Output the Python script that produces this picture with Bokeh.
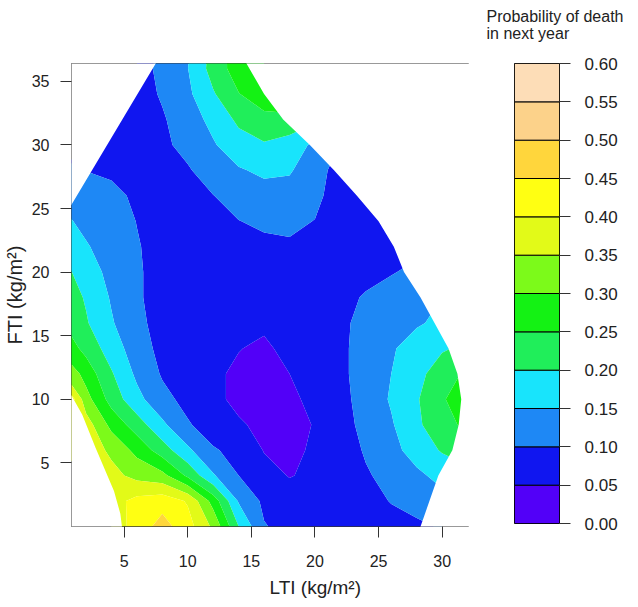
import numpy as np
from bokeh.plotting import figure
from bokeh.layouts import row
from bokeh.models import FixedTicker, PrintfTickFormatter, Title
from bokeh.embed import file_html
from bokeh.resources import INLINE

N = np.nan
# grid of LTI (x) and FTI (y) values, kg/m2
lti = [0, 2, 4, 6, 8, 10, 12, 14, 16, 18, 20, 22, 24, 26, 28, 30, 32]
fti = [0, 2, 4, 6, 8, 10, 12, 14, 16, 18, 20, 22, 24, 26, 28, 30, 32, 34, 36, 38]
# estimated probability of death in next year at each grid node (rows = FTI)
prob = [
    [N, N, .37, .42, .47, .42, .34, .20, .103, .085, .075, .07, .075, .085, .09, .105, N],
    [N, .38, .38, .415, .43, .395, .28, .145, .09, .07, .065, .07, .085, .102, .12, .135, N],
    [N, .37, .365, .335, .315, .24, .155, .10, .065, .048, .058, .075, .095, .115, .14, .165, .18],
    [.40, .38, .34, .285, .225, .16, .105, .085, .048, .042, .055, .075, .105, .135, .17, .205, .23],
    [.40, .375, .285, .225, .16, .105, .075, .055, .04, .038, .052, .08, .115, .145, .19, .235, .26],
    [.50, .32, .23, .165, .115, .085, .06, .04, .035, .042, .06, .085, .12, .155, .195, .245, .28],
    [.36, .28, .205, .14, .095, .07, .055, .045, .04, .05, .065, .09, .12, .15, .185, .225, .26],
    [.29, .235, .175, .125, .085, .07, .06, .051, .045, .058, .07, .09, .12, .145, .17, .195, .21],
    [.255, .205, .155, .11, .085, .07, .06, .055, .055, .06, .07, .09, .115, .13, .145, .16, .18],
    [.235, .195, .145, .105, .085, .075, .065, .06, .065, .07, .075, .085, .105, .12, .135, .15, N],
    [.22, .175, .135, .105, .085, .075, .07, .07, .075, .08, .08, .08, .085, .097, .11, .13, N],
    [.195, .155, .125, .103, .085, .075, .075, .08, .09, .095, .09, .08, .08, .085, .09, N, N],
    [.165, .135, .12, .099, .08, .075, .085, .099, .108, .108, .099, .08, .075, .075, .08, N, N],
    [.14, .125, .115, .09, .075, .08, .099, .12, .13, .13, .11, .08, .075, .075, N, N, N],
    [.11, .099, .09, .08, .08, .095, .125, .145, .16, .155, .12, .08, .075, N, N, N, N],
    [N, .08, .075, .08, .09, .115, .145, .18, .195, .175, .14, .098, N, N, N, N, N],
    [N, .07, .07, .075, .095, .125, .165, .21, .235, .24, .21, N, N, N, N, N, N],
    [N, N, .07, .08, .105, .14, .195, .248, .28, .28, N, N, N, N, N, N, N],
    [N, N, N, .075, .115, .149, .22, .275, .29, N, N, N, N, N, N, N, N],
    [N, N, N, .07, .11, .145, .215, .28, .30, N, N, N, N, N, N, N, N],
]
levels = [0.00, 0.05, 0.10, 0.15, 0.20, 0.25, 0.30, 0.35, 0.40, 0.45, 0.50, 0.55, 0.60]
colors = ["#5200F8", "#1016F0", "#1E88F5", "#18E4FC", "#20EE5A", "#14F214",
          "#7CFA1A", "#E2FA18", "#FFFF12", "#FFD63C", "#FCD28A", "#FDDDB7"]
# outline of the observed (LTI, FTI) domain
hull_lti = [4.85, 4.7, 4.2, 2.75, 1.7, 0.8, 0.8, 7.6, 14.5, 16.0, 17.5, 19.6, 21.5, 23.3,
            25.0, 26.2, 27.0, 28.3, 29.4, 30.5, 31.2, 31.5, 31.3, 30.8, 29.7, 29.0, 28.3, 28.2]
hull_fti = [-0.2, 1.0, 2.8, 6.2, 8.8, 10.4, 25.2, 36.6, 36.6, 34, 32, 30, 28, 26,
            24, 22, 20, 18, 16, 14, 12, 10, 8, 6, 4, 2, 0, -0.2]
x_ticks = [5, 10, 15, 20, 25, 30]
y_ticks = [5, 10, 15, 20, 25, 30, 35]
x_label = "LTI (kg/m²)"
y_label = "FTI (kg/m²)"
cb_title = ["Probability of death", "in next year"]

FONT = "Liberation Sans"
x_lo, x_hi = 0.86, 32.15
y_lo, y_hi = 0.0, 36.4
TOTAL_H = 603
TITLE_PROPS = Title.properties()

p = figure(frame_width=398, frame_height=463, x_range=(x_lo, x_hi), y_range=(y_lo, y_hi),
           output_backend="svg", toolbar_location=None,
           min_border_left=65, min_border_right=0, min_border_top=61,
           min_border_bottom=TOTAL_H - 61 - 463)
z = np.ma.masked_invalid(np.array(prob, dtype=float))
p.contour(lti, fti, z, levels, fill_color=colors)

outer_x = [x_lo - 2, x_hi + 2, x_hi + 2, x_lo - 2]
outer_y = [y_lo - 2, y_lo - 2, y_hi + 2, y_hi + 2]
p.multi_polygons(xs=[[[outer_x, hull_lti]]], ys=[[[outer_y, hull_fti]]],
                 fill_color="white", line_color=None)

p.grid.visible = False
p.outline_line_color = "#333333"
p.outline_line_width = 1
p.xaxis.ticker = FixedTicker(ticks=x_ticks)
p.yaxis.ticker = FixedTicker(ticks=y_ticks)
for ax in (p.xaxis[0], p.yaxis[0]):
    ax.axis_line_color = None
    ax.major_tick_line_color = "#333333"
    ax.major_tick_out = 11
    ax.major_tick_in = 0
    ax.minor_tick_line_color = None
    ax.major_label_text_font = FONT
    ax.major_label_text_font_size = "16px"
    ax.major_label_text_color = "#222222"
p.yaxis.major_label_standoff = 11
p.xaxis.major_label_standoff = 17
p.yaxis.axis_label = y_label
p.yaxis.axis_label_text_font = FONT
p.yaxis.axis_label_text_font_size = "20px"
p.yaxis.axis_label_text_font_style = "normal"
p.yaxis.axis_label_text_color = "#222222"
p.yaxis.axis_label_standoff = 3

xt = Title(text=x_label, align="left", offset=198, text_font=FONT,
           text_font_size="19px", text_font_style="normal", text_color="#222222")
p.add_layout(xt, "below")

# colour key
cb = figure(frame_width=45, frame_height=460, x_range=(0, 1), y_range=(levels[0], levels[-1]),
            x_axis_location=None, y_axis_location="right",
            output_backend="svg", toolbar_location=None,
            min_border_left=45, min_border_right=69, min_border_top=61,
            min_border_bottom=TOTAL_H - 61 - 460)
cb.quad(left=0, right=1, bottom=levels[:-1], top=levels[1:], fill_color=colors,
        line_color="black", line_width=1)
cb.grid.visible = False
cb.outline_line_color = "black"
ay = cb.yaxis[0]
ay.ticker = FixedTicker(ticks=levels)
ay.formatter = PrintfTickFormatter(format="%.2f")
ay.axis_line_color = None
ay.major_tick_line_color = "#333333"
ay.major_tick_out = 11
ay.major_tick_in = 0
ay.minor_tick_line_color = None
ay.major_label_text_font = FONT
ay.major_label_text_font_size = "17px"
ay.major_label_text_color = "#222222"
ay.major_label_standoff = 14

# key title; a trailing blank line keeps it clear of the bar
ct = Title(text="\n".join(cb_title + [" "]), align="left", offset=-28, text_font=FONT,
           text_font_size="16px", text_font_style="normal", text_color="#222222")
if "text_line_height" in TITLE_PROPS:
    ct.text_line_height = 1.0
cb.add_layout(ct, "above")

layout = row(p, cb)
open("out.html", "w").write(file_html(layout, INLINE))
